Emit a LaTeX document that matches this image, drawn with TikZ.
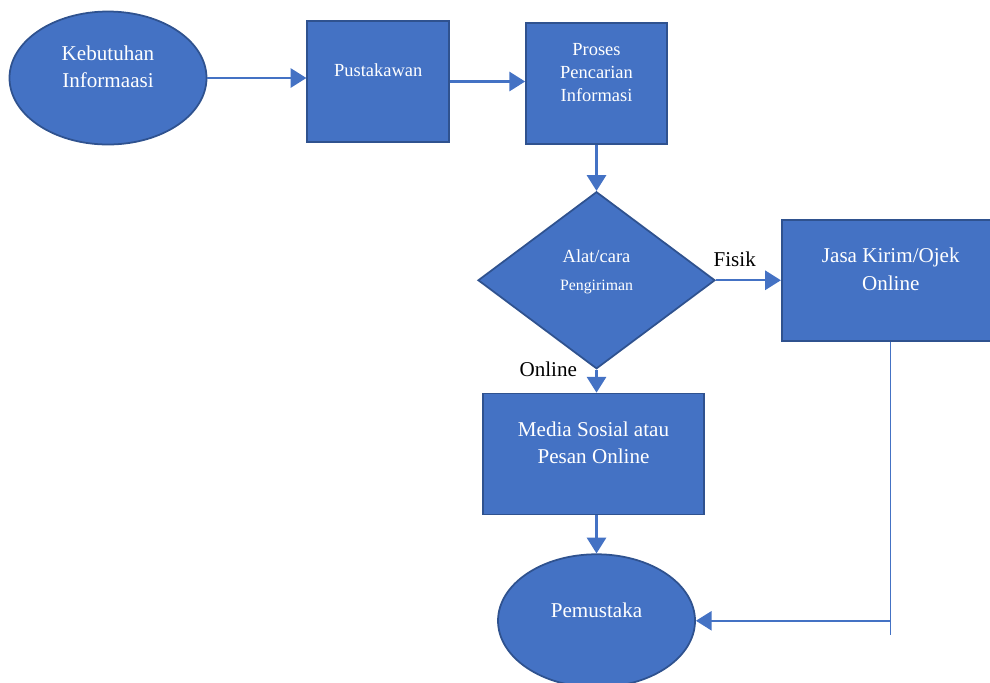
\documentclass[tikz,border=0pt]{standalone}
\usepackage{fontspec}
\setmainfont{Liberation Serif}
\usetikzlibrary{shapes.geometric, arrows.meta, positioning}
\definecolor{fillblue}{HTML}{4472C4}
\definecolor{edgeblue}{HTML}{2F528F}

\begin{document}
\begin{tikzpicture}[node distance = 5mm and 5mm]
        \tikzstyle{base} = [draw = edgeblue, line width = 1pt, fill = fillblue, inner sep = 0pt]
        \tikzstyle{oval} = [base, ellipse, minimum width = 3.94cm, minimum height = 2.66cm]
        \tikzstyle{box} = [base, rectangle, minimum height = 2.42cm]
        \tikzstyle{choice} = [base, diamond, minimum width = 4.74cm, minimum height = 3.54cm]
        \tikzstyle{txt} = [text = white, align = center, yshift = 0.22cm, font = \fontsize{12}{15.5}\selectfont]
        \tikzstyle{small} = [txt, font = \fontsize{10.5}{13}\selectfont]
        \tikzstyle{connect} = [-{Triangle[length = 9pt, width = 11pt]}, line width = 1.2pt, draw = fillblue]
        \tikzstyle{tag} = [text = black, font = \fontsize{12}{14}\selectfont, inner sep = 2pt]
        \useasboundingbox (0, 0) rectangle (19.8, -13.64);
        \node[oval, label = {[txt]center:Kebutuhan\\Informaasi}] (need) at (2.16, -1.56) {};
        \node[box, minimum width = 2.84cm, right = 1.98cm of need, yshift = -0.07cm,
          label = {[small]center:Pustakawan}] (librarian) {};
        \node[box, minimum width = 2.82cm, right = 1.5cm of librarian, yshift = -0.04cm,
          label = {[small]center:Proses\\Pencarian\\Informasi}] (search) {};
        \node[choice, below = 0.92cm of search,
          label = {[txt, yshift = -0.05cm]center:\fontsize{10.5}{12}\selectfont Alat/cara\\\fontsize{9}{12}\selectfont Pengiriman}] (way) {};
        \node[box, minimum width = 4.36cm, right = 1.3cm of way,
          label = {[txt]center:Jasa Kirim/Ojek\\Online}] (courier) {};
        \node[box, minimum width = 4.42cm, below = 0.46cm of way, xshift = -0.06cm,
          label = {[txt]center:Media Sosial atau\\Pesan Online}] (media) {};
        \node[oval, below = 0.76cm of media, xshift = 0.06cm, label = {[txt]center:Pemustaka}] (user) {};
        \coordinate (turn) at (courier.south |- user.east);
        \coordinate (tail) at ([yshift = -0.28cm]turn);
        \draw[connect] (need.east) -- (need.east -| librarian.west);
        \draw[connect] (librarian.east) -- (librarian.east -| search.west);
        \draw[connect] (search.south) -- (way.north);
        \draw[connect] (way.east) -- node[tag, pos = 0.29, above = 5pt] (fisik) {Fisik} (way.east -| courier.west);
        \draw[connect] (way.south) -- node[tag, pos = 0, left = 0.3cm] (online) {Online} (way.south |- media.north);
        \draw[connect] (user.north |- media.south) -- (user.north);
        \draw[fillblue, line width = 0.6pt] (courier.south) -- (tail);
        \draw[connect, line width = 1pt] (turn) -- (user.east);
      \end{tikzpicture}
\end{document}
